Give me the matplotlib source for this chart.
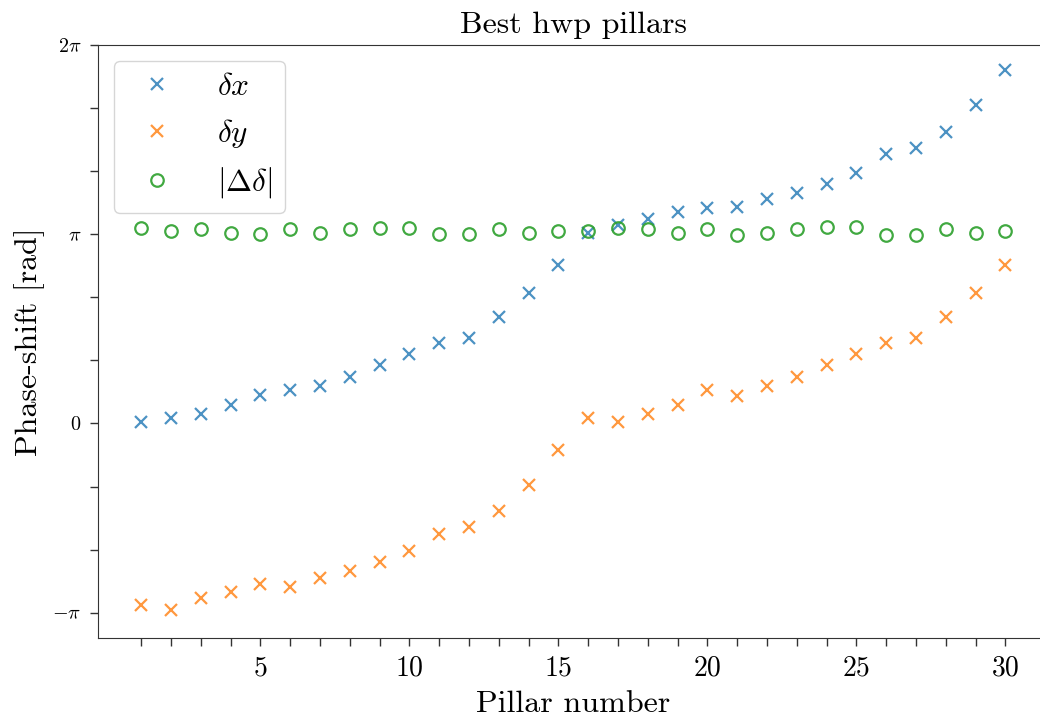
import numpy as np
import matplotlib
matplotlib.use("Agg")
import matplotlib.pyplot as plt
from matplotlib.ticker import MultipleLocator, FixedLocator

plt.rcParams["font.family"] = "cmr10"
plt.rcParams["mathtext.fontset"] = "cm"
plt.rcParams["axes.unicode_minus"] = False
plt.rcParams["axes.formatter.use_mathtext"] = True

# Phase shifts per pillar, in units of pi
pillars = np.arange(1, 31)
delta_x = [0.010, 0.031, 0.049, 0.098, 0.149, 0.177, 0.198, 0.248, 0.307, 0.366,
           0.424, 0.454, 0.565, 0.692, 0.839, 1.008, 1.049, 1.079, 1.119, 1.137,
           1.146, 1.188, 1.218, 1.267, 1.325, 1.422, 1.454, 1.542, 1.681, 1.867]
delta_y = [-0.959, -0.987, -0.920, -0.890, -0.849, -0.862, -0.819, -0.779, -0.732, -0.674,
           -0.582, -0.545, -0.465, -0.326, -0.140, 0.027, 0.010, 0.050, 0.098, 0.177,
           0.145, 0.198, 0.248, 0.307, 0.366, 0.424, 0.454, 0.563, 0.692, 0.837]
abs_diff = [1.033, 1.015, 1.026, 1.008, 0.999, 1.026, 1.008, 1.026, 1.035, 1.035,
            0.999, 0.999, 1.026, 1.008, 1.015, 1.017, 1.035, 1.026, 1.008, 1.030,
            0.996, 1.008, 1.026, 1.038, 1.038, 0.996, 0.996, 1.026, 1.008, 1.017]

ytick_vals = [-1, 0, 1, 2]
ytick_labels = [r"$-\pi$", r"$0$", r"$\pi$", r"$2\pi$"]
xtick_vals = [5, 10, 15, 20, 25, 30]

fig = plt.figure(figsize=(10.4, 7.22), dpi=100)
ax = fig.add_axes([0.0942, 0.1163, 0.914, 0.8213])

ms = 9
ax.plot(pillars, np.array(delta_x) * np.pi, "x", color="#1f77b4", ms=ms, mew=1.6,
        alpha=0.8, label=r"$\delta x$")
ax.plot(pillars, np.array(delta_y) * np.pi, "x", color="#ff7f0e", ms=ms, mew=1.6,
        alpha=0.8, label=r"$\delta y$")
ax.plot(pillars, np.array(abs_diff) * np.pi, "o", color="#2ca02c", ms=ms, mew=1.6,
        mfc="none", alpha=0.9, label=r"$|\Delta\delta|$")

ax.set_xlim(-0.45, 31.45)
ax.set_ylim(-1.134 * np.pi, 2.0 * np.pi)

ax.xaxis.set_major_locator(FixedLocator(xtick_vals))
ax.xaxis.set_minor_locator(FixedLocator([p for p in pillars if p % 5 != 0]))
ax.set_xticklabels([str(v) for v in xtick_vals])
ax.yaxis.set_major_locator(FixedLocator([v * np.pi for v in ytick_vals]))
ax.yaxis.set_minor_locator(MultipleLocator(np.pi / 3))
ax.set_yticklabels(ytick_labels)

ax.tick_params(axis="both", which="both", direction="out", length=6, width=1,
               color="#333333")
ax.tick_params(axis="x", which="major", labelsize=20, pad=6)
ax.tick_params(axis="y", which="major", labelsize=14.5, pad=6)
for sp in ax.spines.values():
    sp.set_color("#333333")
ax.spines["right"].set_visible(False)

ax.set_xlabel("Pillar number", fontsize=23, labelpad=7)
ax.set_ylabel("Phase-shift [rad]", fontsize=23, labelpad=5)
ax.set_title("Best hwp pillars", fontsize=23, pad=9)

ax.legend(loc="upper left", fontsize=22.5, handletextpad=0.9)

fig.savefig("out.png", dpi=100)
